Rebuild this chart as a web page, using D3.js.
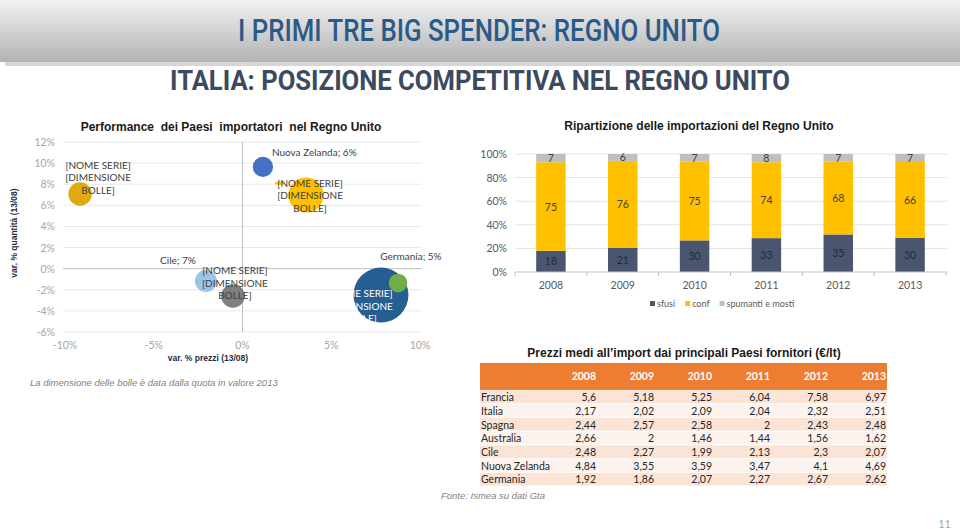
<!DOCTYPE html>
<html><head><meta charset="utf-8">
<script src="https://cdn.jsdelivr.net/npm/d3@7"></script>
<style>body{margin:0;background:#fff;} svg{display:block}</style>
</head><body>
<svg id="c" width="960" height="529"></svg>
<script>
// ---------- DATA ----------
// Bubble chart
const bubbleLabels = ["[NOME SERIE]|[DIMENSIONE|BOLLE]", "Nuova Zelanda; 6%", "[NOME SERIE]|[DIMENSIONE|BOLLE]", "", "Cile; 7%", "[NOME SERIE]|[DIMENSIONE|BOLLE]", "[NOME SERIE]|[DIMENSIONE|BOLLE]", "Germania; 5%"];
const bubblePrice = [-9.15, 1.15, 3.58, 2.1, -2.06, -0.54, 7.8, 8.76];
const bubbleQty   = [7.08, 9.64, 6.98, 8.1, -1.17, -2.59, -2.5, -1.35];
const bubbleShare = [8, 6, 18, 1.4, 7, 8, 44, 5];
const bubbleColors = ["#E0A910", "#4472C4", "#FFC000", "#FFC000", "#9DC3E6", "#7F7F7F", "#255E91", "#70AD47"];
const bubbleXTicks = [-10, -5, 0, 5, 10];
const bubbleYTicks = [-6, -4, -2, 0, 2, 4, 6, 8, 10, 12];

// Stacked bar chart
const years = ["2008", "2009", "2010", "2011", "2012", "2013"];
const sfusi = [18, 21, 30, 33, 35, 30];
const conf = [75, 76, 75, 74, 68, 66];
const spumanti = [7, 6, 7, 8, 7, 7];
const barSeries = ["sfusi", "conf", "spumanti e mosti"];
const barColors = ["#4A5670", "#FFC000", "#BFBFBF"];
const barLabelColors = ["#1F2A3C", "#404040", "#404040"];
const barYTicks = [0, 0.2, 0.4, 0.6, 0.8, 1];

// Table
const countries = ["Francia", "Italia", "Spagna", "Australia", "Cile", "Nuova Zelanda", "Germania"];
const p2008 = [5.6, 2.17, 2.44, 2.66, 2.48, 4.84, 1.92];
const p2009 = [5.18, 2.02, 2.57, 2, 2.27, 3.55, 1.86];
const p2010 = [5.25, 2.09, 2.58, 1.46, 1.99, 3.59, 2.07];
const p2011 = [6.04, 2.04, 2, 1.44, 2.13, 3.47, 2.27];
const p2012 = [7.58, 2.32, 2.43, 1.56, 2.3, 4.1, 2.67];
const p2013 = [6.97, 2.51, 2.48, 1.62, 2.07, 4.69, 2.62];

// ---------- DRAW ----------
const svg = d3.select("#c");
const LBL = "Lato, 'Open Sans', sans-serif";
const ARIAL = "'Liberation Sans', Arial, sans-serif";
const HEAD = "Roboto, 'Liberation Sans', sans-serif";

// Header band
const defs = svg.append("defs");
const grad = defs.append("linearGradient").attr("id", "hg").attr("x1", 0).attr("y1", 0).attr("x2", 0).attr("y2", 1);
grad.append("stop").attr("offset", "0%").attr("stop-color", "#F2F2F2");
grad.append("stop").attr("offset", "100%").attr("stop-color", "#B3B3B3");
svg.append("rect").attr("x", 5).attr("y", 60).attr("width", 955).attr("height", 6).attr("fill", "#D6D6D6");
svg.append("rect").attr("x", 0).attr("y", 0).attr("width", 960).attr("height", 62).attr("fill", "url(#hg)");
svg.append("text").attr("x", 479).attr("y", 41).attr("text-anchor", "middle")
  .attr("font-family", HEAD).attr("font-weight", 500).attr("font-size", 31).attr("fill", "#2B5A87")
  .attr("textLength", 482).attr("lengthAdjust", "spacingAndGlyphs")
  .text("I PRIMI TRE BIG SPENDER: REGNO UNITO");
svg.append("text").attr("x", 480).attr("y", 90).attr("text-anchor", "middle")
  .attr("font-family", HEAD).attr("font-weight", "bold").attr("font-size", 28).attr("fill", "#3B4A5E")
  .attr("textLength", 620).attr("lengthAdjust", "spacingAndGlyphs")
  .text("ITALIA: POSIZIONE COMPETITIVA NEL REGNO UNITO");

// ----- Bubble chart -----
const bx = d3.scaleLinear().domain([-10, 10]).range([65, 420]);
const by = d3.scaleLinear().domain([-6, 12]).range([332, 142]);
const br = d3.scaleSqrt().domain([0, 44]).range([0, 27.5]);
const gB = svg.append("g");

gB.append("text").attr("x", 231).attr("y", 131).attr("text-anchor", "middle")
  .attr("font-family", ARIAL).attr("font-weight", "bold").attr("font-size", 12).attr("fill", "#1a1a1a")
  .style("white-space", "pre").text("Performance  dei Paesi  importatori  nel Regno Unito");

gB.selectAll(".gy").data(bubbleYTicks).enter().append("line")
  .attr("x1", bx(-10) - 2).attr("x2", bx(10) + 2)
  .attr("y1", d => by(d)).attr("y2", d => by(d))
  .attr("stroke", d => d === 0 ? "#BFBFBF" : "#E8E8E8").attr("stroke-width", 1);
gB.append("line").attr("x1", bx(0)).attr("x2", bx(0)).attr("y1", by(12)).attr("y2", by(-6))
  .attr("stroke", "#BFBFBF");

gB.selectAll(".ty").data(bubbleYTicks).enter().append("text")
  .attr("x", 55).attr("y", d => by(d) + 4).attr("text-anchor", "end")
  .attr("font-family", LBL).attr("font-size", 10.5).attr("fill", "#A6A6A6")
  .text(d => d + "%");
gB.selectAll(".tx").data(bubbleXTicks).enter().append("text")
  .attr("x", d => bx(d)).attr("y", 349).attr("text-anchor", "middle")
  .attr("font-family", LBL).attr("font-size", 10.5).attr("fill", "#A6A6A6")
  .text(d => d + "%");

gB.append("text").attr("x", 208).attr("y", 361).attr("text-anchor", "middle")
  .attr("font-family", ARIAL).attr("font-weight", "bold").attr("font-size", 8.5).attr("fill", "#1F2D3D")
  .text("var. % prezzi (13/08)");
gB.append("text").attr("transform", "translate(17,233) rotate(-90)").attr("text-anchor", "middle")
  .attr("font-family", ARIAL).attr("font-weight", "bold").attr("font-size", 8.5).attr("fill", "#1F2D3D")
  .text("var. % quantità (13/08)");

const bubbles = bubblePrice.map((p, i) => ({p, q: bubbleQty[i], s: bubbleShare[i], c: bubbleColors[i], l: bubbleLabels[i], i}));
// small flattened bubble (index 3) drawn as ellipse
gB.selectAll(".b").data(bubbles).enter().append("ellipse")
  .attr("cx", d => bx(d.p)).attr("cy", d => by(d.q))
  .attr("rx", d => br(d.s)).attr("ry", d => d.i === 3 ? br(d.s) * 0.35 : br(d.s))
  .attr("fill", d => d.c);

// label layout (offsets from bubble center, anchor)
const labelLayout = [
  {dx: 18, dy: -16, a: "middle", col: "#404040"},
  {dx: 9, dy: -14, a: "start", col: "#404040"},
  {dx: 4, dy: 1, a: "middle", col: "#404040"},
  {dx: 0, dy: 0, a: "middle", col: "#404040"},
  {dx: -28, dy: -21, a: "middle", col: "#404040"},
  {dx: 2, dy: -13, a: "middle", col: "#404040"},
  {dx: -21, dy: 11, a: "middle", col: "#FFFFFF"},
  {dx: 13, dy: -26, a: "middle", col: "#404040"}
];
bubbles.forEach(d => {
  if (!d.l) return;
  const L = labelLayout[d.i];
  const lines = d.l.split("|");
  const lh = 12.3;
  const cx = bx(d.p) + L.dx, cy = by(d.q) + L.dy;
  const t = gB.append("text").attr("text-anchor", L.a)
    .attr("font-family", LBL).attr("font-size", 10).attr("fill", L.col);
  lines.forEach((ln, k) => {
    t.append("tspan").attr("x", cx).attr("y", cy + (k - (lines.length - 1) / 2) * lh + 3.5).text(ln);
  });
});

gB.append("text").attr("x", 30).attr("y", 386)
  .attr("font-family", ARIAL).attr("font-style", "italic").attr("font-size", 9.5).attr("fill", "#7F7F7F")
  .text("La dimensione delle bolle è data dalla quota in valore 2013");

// ----- Stacked bar chart -----
const gS = svg.append("g");
gS.append("text").attr("x", 699).attr("y", 130).attr("text-anchor", "middle")
  .attr("font-family", ARIAL).attr("font-weight", "bold").attr("font-size", 12).attr("fill", "#1a1a1a")
  .text("Ripartizione delle importazioni del Regno Unito");

const sx = d3.scaleBand().domain(years).range([515, 946]).paddingInner(0).paddingOuter(0);
const sy = d3.scaleLinear().domain([0, 1]).range([272, 154]);
const barW = sx.bandwidth() * 0.41;

gS.selectAll(".gl").data(barYTicks.filter(d => d > 0)).enter().append("line")
  .attr("x1", 515).attr("x2", 947).attr("y1", d => sy(d)).attr("y2", d => sy(d))
  .attr("stroke", "#E3E3E3");
gS.selectAll(".yl").data(barYTicks).enter().append("text")
  .attr("x", 507).attr("y", d => sy(d) + 4).attr("text-anchor", "end")
  .attr("font-family", LBL).attr("font-size", 10.5).attr("fill", "#595959")
  .text(d => Math.round(d * 100) + "%");

const rows = years.map((y, i) => ({year: y, sfusi: sfusi[i], conf: conf[i], "spumanti e mosti": spumanti[i]}));
const stack = d3.stack().keys(barSeries).offset(d3.stackOffsetExpand)(rows);
stack.forEach((layer, li) => {
  gS.selectAll(".r" + li).data(layer).enter().append("rect")
    .attr("x", d => sx(d.data.year) + (sx.bandwidth() - barW) / 2)
    .attr("width", barW)
    .attr("y", d => sy(d[1])).attr("height", d => sy(d[0]) - sy(d[1]))
    .attr("fill", barColors[li]);
  gS.selectAll(".v" + li).data(layer).enter().append("text")
    .attr("x", d => sx(d.data.year) + sx.bandwidth() / 2)
    .attr("y", d => (sy(d[0]) + sy(d[1])) / 2 + 4)
    .attr("text-anchor", "middle").attr("font-family", LBL).attr("font-size", 10.5)
    .attr("fill", barLabelColors[li])
    .text(d => d.data[layer.key]);
});

gS.append("line").attr("x1", 515).attr("x2", 947).attr("y1", 272).attr("y2", 272).attr("stroke", "#BFBFBF");
gS.selectAll(".tk").data(years.concat(["end"])).enter().append("line")
  .attr("x1", (d, i) => 515 + i * sx.step()).attr("x2", (d, i) => 515 + i * sx.step())
  .attr("y1", 272).attr("y2", 276).attr("stroke", "#BFBFBF");
gS.selectAll(".xl").data(years).enter().append("text")
  .attr("x", d => sx(d) + sx.bandwidth() / 2).attr("y", 289).attr("text-anchor", "middle")
  .attr("font-family", LBL).attr("font-size", 10.5).attr("fill", "#595959").text(d => d);

// legend
let lx = 650;
barSeries.forEach((s, i) => {
  gS.append("rect").attr("x", lx).attr("y", 301).attr("width", 5).attr("height", 5).attr("fill", barColors[i]);
  const t = gS.append("text").attr("x", lx + 7).attr("y", 307)
    .attr("font-family", LBL).attr("font-size", 9).attr("fill", "#595959").text(s);
  lx += 7 + t.node().getComputedTextLength() + 10;
});

// ----- Table -----
const gT = svg.append("g");
gT.append("text").attr("x", 684).attr("y", 357).attr("text-anchor", "middle")
  .attr("font-family", ARIAL).attr("font-weight", "bold").attr("font-size", 12).attr("fill", "#1a1a1a")
  .text("Prezzi medi all’import dai principali Paesi fornitori (€/lt)");

const cols = [p2008, p2009, p2010, p2011, p2012, p2013];
const tx = d3.scalePoint().domain(years).range([596, 886]);
const ty = d3.scaleBand().domain(countries).range([390.5, 486.5]);
gT.append("rect").attr("x", 480).attr("y", 363).attr("width", 407).attr("height", 27).attr("fill", "#ED7D31");
gT.selectAll(".hy").data(years).enter().append("text")
  .attr("x", d => tx(d)).attr("y", 380).attr("text-anchor", "end")
  .attr("font-family", LBL).attr("font-weight", "bold").attr("font-size", 10.5).attr("fill", "#FFFFFF").text(d => d);
gT.selectAll(".rb").data(countries).enter().append("rect")
  .attr("x", 480).attr("width", 407).attr("y", d => ty(d)).attr("height", ty.bandwidth() - 1)
  .attr("fill", (d, i) => i % 2 === 0 ? "#FBE4D5" : "#FDF3EE");
gT.selectAll(".rn").data(countries).enter().append("text")
  .attr("x", 481).attr("y", d => ty(d) + ty.bandwidth() / 2 + 3.8)
  .attr("font-family", LBL).attr("font-size", 10.5).attr("fill", "#262626").text(d => d);
const fmt = v => String(v).replace(".", ",");
years.forEach((y, ci) => {
  gT.selectAll(".c" + ci).data(cols[ci]).enter().append("text")
    .attr("x", tx(y)).attr("y", (d, ri) => ty(countries[ri]) + ty.bandwidth() / 2 + 3.8)
    .attr("text-anchor", "end").attr("font-family", LBL).attr("font-size", 10.5).attr("fill", "#262626")
    .text(d => fmt(d));
});

svg.append("text").attr("x", 441).attr("y", 499)
  .attr("font-family", ARIAL).attr("font-style", "italic").attr("font-size", 9.5).attr("fill", "#7F7F7F")
  .text("Fonte: Ismea su dati Gta");
svg.append("text").attr("x", 951).attr("y", 528).attr("text-anchor", "end")
  .attr("font-family", LBL).attr("font-size", 11).attr("fill", "#A6A6A6").text("11");
</script>
</body></html>
